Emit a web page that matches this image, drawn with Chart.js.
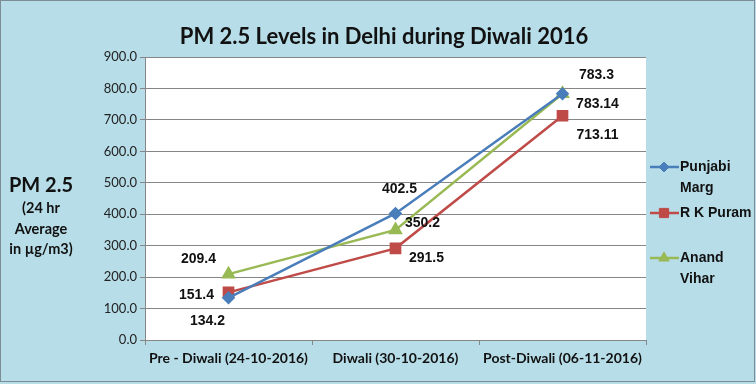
<!DOCTYPE html>
<html>
<head>
<meta charset="utf-8">
<script src="https://cdn.jsdelivr.net/npm/chart.js@4"></script>
<style>
  body { margin: 0; background: #b7dde8; }
  canvas { display: block; }
</style>
</head>
<body>
<canvas id="chart" width="756" height="384"></canvas>
<script>
const categories = ['Pre - Diwali (24-10-2016)', 'Diwali (30-10-2016)', 'Post-Diwali (06-11-2016)'];
const punjabiMarg = [134.2, 402.5, 783.3];
const rkPuram = [151.4, 291.5, 713.11];
const anandVihar = [209.4, 350.2, 783.14];
const valueLabels = [
  ['134.2', '402.5', '783.3'],
  ['151.4', '291.5', '713.11'],
  ['209.4', '350.2', '783.14'],
];

// where each value label sits relative to its point (px)
const labelOffsets = [
  [[-21, 23], [4, -24], [34, -19]],
  [[-32, 3], [31, 10], [35, 19]],
  [[-30, -15], [27, -7], [35, 10]],
];

const legendItems = [
  { lines: ['Punjabi', 'Marg'], y: 167 },
  { lines: ['R K Puram'], y: 213 },
  { lines: ['Anand', 'Vihar'], y: 258 },
];

const frame = {
  id: 'frame',
  beforeDraw(chart) {
    const { ctx, chartArea: a } = chart;
    ctx.save();
    ctx.fillStyle = '#b7dde8';
    ctx.fillRect(0, 0, chart.width, chart.height);
    ctx.fillStyle = '#ffffff';
    ctx.fillRect(a.left, a.top, a.right - a.left, a.bottom - a.top);
    ctx.strokeStyle = '#7d8d94';
    ctx.lineWidth = 1;
    ctx.strokeRect(0.5, 0.5, chart.width - 2, chart.height - 3);
    ctx.restore();
  },
  afterDraw(chart) {
    const ctx = chart.ctx;
    ctx.save();
    ctx.fillStyle = '#111';
    ctx.textAlign = 'center';
    ctx.textBaseline = 'middle';
    ctx.font = 'bold 22px Lato';
    ctx.fillText('PM 2.5 Levels in Delhi during Diwali 2016', 384, 37);

    ctx.font = 'bold 20px Lato';
    ctx.fillText('PM 2.5', 41, 186);
    ctx.font = 'bold 14.5px Lato';
    ctx.fillText('(24 hr', 41, 208);
    ctx.fillText('Average', 41, 229);
    ctx.fillText('in µg/m3)', 41, 249);

    // legend
    ctx.textAlign = 'left';
    ctx.font = 'bold 14px "Liberation Sans"';
    chart.data.datasets.forEach((ds, i) => {
      const it = legendItems[i];
      ctx.strokeStyle = ds.borderColor;
      ctx.fillStyle = ds.backgroundColor;
      ctx.lineWidth = 2.5;
      ctx.beginPath();
      ctx.moveTo(650, it.y);
      ctx.lineTo(679, it.y);
      ctx.stroke();
      ctx.lineWidth = 1;
      Chart.helpers.drawPoint(ctx, {
        pointStyle: ds.pointStyle,
        radius: ds.pointRadius,
        borderWidth: 1,
        rotation: 0,
      }, 664, it.y);
      ctx.fillStyle = '#111';
      it.lines.forEach((t, k) => ctx.fillText(t, 680, it.y + k * 21));
    });
    ctx.restore();
  },
  afterDatasetsDraw(chart) {
    const ctx = chart.ctx;
    ctx.save();
    ctx.fillStyle = '#111';
    ctx.font = 'bold 14px "Liberation Sans"';
    ctx.textAlign = 'center';
    ctx.textBaseline = 'middle';
    chart.data.datasets.forEach((ds, i) => {
      chart.getDatasetMeta(i).data.forEach((pt, j) => {
        const off = labelOffsets[i][j];
        ctx.fillText(valueLabels[i][j], pt.x + off[0], pt.y + off[1]);
      });
    });
    ctx.restore();
  }
};

new Chart(document.getElementById('chart'), {
  type: 'line',
  data: {
    labels: categories,
    datasets: [
      {
        label: 'Punjabi Marg',
        data: punjabiMarg,
        borderColor: '#4a7ebb',
        backgroundColor: '#4a7ebb',
        pointStyle: 'rectRot',
        pointRadius: 5,
        borderWidth: 2.5,
      },
      {
        label: 'R K Puram',
        data: rkPuram,
        borderColor: '#be4b48',
        backgroundColor: '#be4b48',
        pointStyle: 'rect',
        pointRadius: 6.5,
        borderWidth: 2.5,
      },
      {
        label: 'Anand Vihar',
        data: anandVihar,
        borderColor: '#98b954',
        backgroundColor: '#98b954',
        pointStyle: 'triangle',
        pointRadius: 6,
        borderWidth: 2.5,
      },
    ],
  },
  options: {
    responsive: false,
    animation: false,
    devicePixelRatio: 1,
    layout: { padding: { left: 0, top: 57, right: 110, bottom: 0 } },
    plugins: {
      legend: { display: false },
      title: { display: false },
      tooltip: { enabled: false },
    },
    elements: {
      line: { tension: 0 },
      point: { borderWidth: 1 },
    },
    scales: {
      x: {
        offset: true,
        afterFit(s) { s.height = 44; },
        grid: {
          offset: true,
          drawOnChartArea: false,
          drawTicks: true,
          tickLength: 5,
          color: '#868686',
        },
        border: { color: '#868686', width: 1 },
        ticks: {
          color: '#111',
          padding: 5,
          maxRotation: 0,
          font: { family: 'Lato', size: 14, weight: 'bold' },
        },
      },
      y: {
        min: 0,
        max: 900,
        afterFit(s) { s.width = 145; },
        grid: {
          color: '#868686',
          tickLength: 5,
        },
        border: { color: '#868686', width: 1 },
        ticks: {
          stepSize: 100,
          color: '#222',
          padding: 3,
          font: { family: 'Lato', size: 13 },
          callback: (v) => v.toFixed(1),
        },
      },
    },
  },
  plugins: [frame],
});
</script>
</body>
</html>
